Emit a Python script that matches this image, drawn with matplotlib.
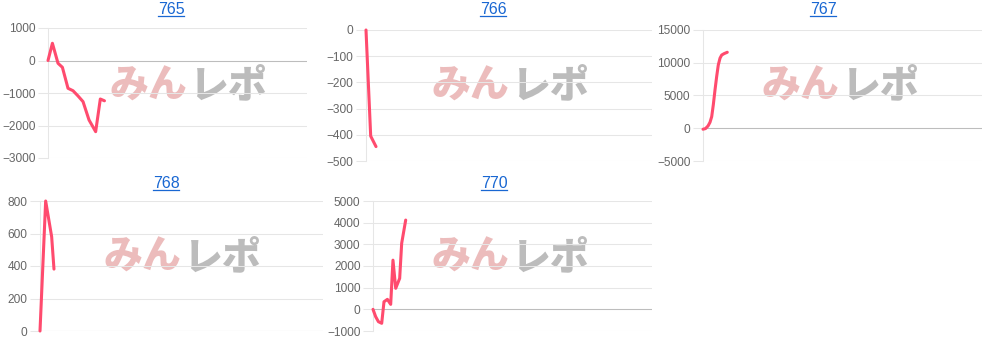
import matplotlib.pyplot as plt
from matplotlib.lines import Line2D

# ---- data ------------------------------------------------------------------
titles = ["765", "766", "767", "768", "770"]

x765 = [0, 0.85, 1.93, 2.78, 3.86, 4.83, 5.79, 6.76, 7.92, 9.2, 10.1, 10.9]
y765 = [0, 530, -85, -210, -855, -930, -1090, -1265, -1830, -2190, -1185, -1240]

x766 = [0, 0.82, 1.75]
y766 = [0, -405, -445]

x767 = [0, 0.45, 0.9, 1.25, 1.56, 1.85, 2.15, 2.45, 2.74, 3.05, 3.35, 3.8, 4.35]
y767 = [-150, -50, 350, 900, 1770, 3600, 5840, 7900, 9660, 10700, 11180, 11400, 11600]

x768 = [0, 1.0, 2.06, 2.47]
y768 = [0, 800, 580, 381]

x770 = [0, 0.48, 0.97, 1.56, 1.97, 2.58, 3.17, 3.58, 4.07, 4.78, 5.14, 5.86]
y770 = [0, -340, -570, -645, 350, 460, 230, 2270, 970, 1430, 3050, 4120]

series_x = [x765, x766, x767, x768, x770]
series_y = [y765, y766, y767, y768, y770]

y_limits = [(-3000, 1000), (-500, 0), (-5000, 15000), (0, 800), (-1000, 5000)]
y_steps = [1000, 100, 5000, 200, 1000]

# ---- layout (pixels, measured from the top-left of the 991x340 image) -------
W, H = 991, 340
plot_boxes = [  # left, right, top, bottom
    (48, 307, 28, 158),
    (366, 652, 30, 161),
    (703, 982, 30, 161),
    (40, 323, 201, 331),
    (373, 652, 201, 331),
]
title_pos = [(171, 14.5), (493, 14.5), (823, 14.5), (166, 188.5), (494, 188.5)]
mark_pos = [(188, 86), (510, 86), (840, 86), (182, 257), (510, 257)]

LINE = "#ff4b6e"
GRID = "#e6e6e6"
ZERO = "#bdbdbd"
LINK = "#1967d2"

plt.rcParams["font.family"] = ["Liberation Sans", "DejaVu Sans"]

fig = plt.figure(figsize=(W / 100, H / 100), dpi=100)

for i, (l, r, t, b) in enumerate(plot_boxes):
    ax = fig.add_axes([l / W, 1 - b / H, (r - l) / W, (b - t) / H])
    lo, hi = y_limits[i]
    ax.set_ylim(lo, hi)
    ax.set_xlim(0, 50)
    ax.set_yticks(range(lo, hi + 1, y_steps[i]))
    ax.set_xticks([])
    ax.grid(axis="y", color=GRID, lw=0.75, alpha=1)
    ax.set_axisbelow(True)
    for s in ("top", "right", "bottom"):
        ax.spines[s].set_visible(False)
    ax.spines["left"].set_color(GRID)
    ax.spines["left"].set_linewidth(0.75)
    ax.tick_params(axis="y", length=7, width=0.75, color=GRID, pad=2,
                   labelsize=8.6, labelcolor="#666666")
    if lo < 0 < hi:
        ax.axhline(0, color=ZERO, lw=0.75, zorder=1)
    if lo == 0:
        ax.axhline(0, color=ZERO, lw=0.75, zorder=1)

    # watermark logo
    cx, cy = mark_pos[i]
    ax.text((cx - 40) / W, 1 - cy / H, "みん", transform=fig.transFigure,
            family=["Noto Sans CJK JP"], weight="black", fontsize=28,
            color="#ecbcbc", ha="center", va="center", zorder=0)
    ax.text((cx + 40) / W, 1 - cy / H, "レポ", transform=fig.transFigure,
            family=["Noto Sans CJK JP"], weight="black", fontsize=28,
            color="#bcbcbc", ha="center", va="center", zorder=0)

    ax.plot(series_x[i], series_y[i], color=LINE, lw=2.2,
            solid_joinstyle="round", solid_capstyle="round", clip_on=False, zorder=3)

# titles as underlined links
renderer = fig.canvas.get_renderer()
for name, (tx, ty) in zip(titles, title_pos):
    txt = fig.text(tx / W, 1 - ty / H, name, ha="center", va="baseline",
                   fontsize=11.5, color=LINK)
    bb = txt.get_window_extent(renderer)
    uy = (1 - ty / H) * H - 1.6
    fig.add_artist(Line2D([bb.x0 / W, bb.x1 / W], [uy / H, uy / H],
                          color=LINK, lw=0.9, transform=fig.transFigure))

fig.savefig("out.png", dpi=100)
